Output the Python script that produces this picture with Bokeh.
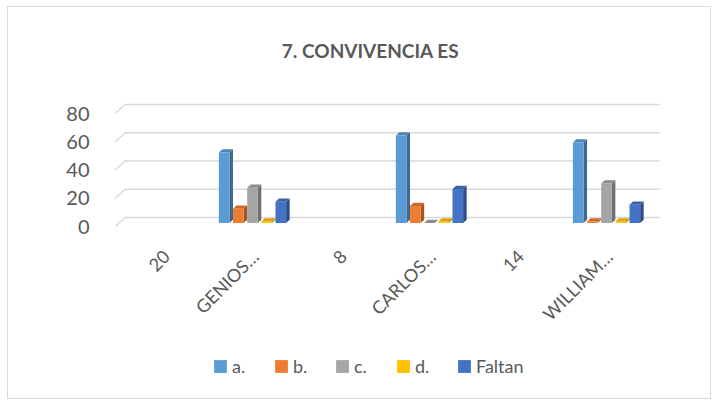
import math
from bokeh.plotting import figure
from bokeh.models import Range1d, FixedTicker, Legend, LegendItem
from bokeh.core.properties import value
from bokeh.embed import file_html
from bokeh.resources import INLINE

# ---- data ----
categories = ["20", "GENIOS\u2026", "8", "CARLOS\u2026", "14", "WILLIAM\u2026"]
series_names = ["a.", "b.", "c.", "d.", "Faltan"]
vals_a = [None, 50, None, 62, None, 57]
vals_b = [None, 10, None, 12, None, 1]
vals_c = [None, 25, None, 0, None, 28]
vals_d = [None, 1, None, 1, None, 1]
vals_faltan = [None, 15, None, 24, None, 13]
y_ticks = [0, 20, 40, 60, 80]
title_text = "7. CONVIVENCIA ES"

series_values = [vals_a, vals_b, vals_c, vals_d, vals_faltan]
colors = ["#5B9BD5", "#ED7D31", "#A5A5A5", "#FFC000", "#4472C4"]


def shade(hex_color, f):
    h = hex_color.lstrip("#")
    r, g, b = (int(h[i:i + 2], 16) for i in (0, 2, 4))
    return "#%02x%02x%02x" % (int(r * f), int(g * f), int(b * f))


FONT = "Lato"
TXT = "#595959"

p = figure(frame_width=547, frame_height=373, output_backend="svg", toolbar_location=None,
           x_range=Range1d(-0.70, 5.48), y_range=Range1d(-116.1, 148.0),
           min_border_left=105, min_border_right=50, min_border_top=10,
           min_border_bottom=8)
p.styles = {"border": "1px solid #d9d9d9", "margin-left": "7px", "margin-top": "6px"}
p.outline_line_color = None
p.xgrid.visible = False
p.ygrid.visible = False
p.background_fill_color = "white"
p.border_fill_color = "white"
p.xaxis.visible = False

# 3D-ish parameters (style only)
wall_dx, wall_dy = 0.11, 6.4      # back wall offset
bar_depth_x, bar_depth_y = 0.04, 2.3
bar_base = 2.5
slot = 0.16
front_w = slot - bar_depth_x
group_left = -0.51

# gridlines with slanted left end
gx, gy = [], []
for v in y_ticks:
    gx.append([-0.68, -0.68 + wall_dx, 5.47])
    gy.append([v, v + wall_dy, v + wall_dy])
p.multi_line(gx, gy, line_color="#d9d9d9", line_width=1.3)

legend_items = []
for j, (name, vals, col) in enumerate(zip(series_names, series_values, colors)):
    lefts, rights, tops = [], [], []
    side_xs, side_ys, top_xs, top_ys = [], [], [], []
    for i, v in enumerate(vals):
        if v is None:
            continue
        l = i + group_left + j * slot
        r = l + front_w
        t = v + bar_base
        lefts.append(l); rights.append(r); tops.append(t)
        side_xs.append([r, r + bar_depth_x, r + bar_depth_x, r])
        side_ys.append([bar_base, bar_base + bar_depth_y, t + bar_depth_y, t])
        top_xs.append([l, l + bar_depth_x, r + bar_depth_x, r])
        top_ys.append([t, t + bar_depth_y, t + bar_depth_y, t])
    p.patches(side_xs, side_ys, fill_color=shade(col, 0.68), line_color=None)
    p.patches(top_xs, top_ys, fill_color=shade(col, 0.85), line_color=None)
    rend = p.quad(left=lefts, right=rights, bottom=bar_base, top=tops,
                  fill_color=col, line_color=None)
    legend_items.append(LegendItem(label=name, renderers=[rend]))

# category labels (rotated), placed at the category positions
label_dx = -0.1
label_y = -19.0
p.text(x=[i + label_dx for i in range(len(categories))], y=[label_y] * len(categories),
       text=categories, angle=math.pi / 4, text_align="right", text_baseline="middle",
       text_font=value(FONT), text_font_size=value("18px"), text_color=TXT)

# title (drawn as text above the plotting area)
p.text(x=[2.204], y=[124.6], text=[title_text], text_align="center",
       text_baseline="middle", text_font=value(FONT), text_font_size=value("19px"),
       text_font_style="bold", text_color=TXT)

# y axis
p.yaxis.ticker = FixedTicker(ticks=y_ticks)
p.yaxis.axis_line_color = None
p.yaxis.major_tick_line_color = None
p.yaxis.minor_tick_line_color = None
p.yaxis.major_label_standoff = 18
p.yaxis.major_label_text_font = FONT
p.yaxis.major_label_text_font_size = "20px"
p.yaxis.major_label_text_color = TXT

legend = Legend(items=legend_items, orientation="horizontal", location=(99, 13),
                border_line_color=None, background_fill_alpha=0,
                glyph_width=16, glyph_height=16, label_standoff=4, spacing=21,
                padding=0, margin=0,
                label_text_font=FONT, label_text_font_size="18px",
                label_text_color=TXT)
p.add_layout(legend, "center")

open("out.html", "w").write(file_html(p, INLINE))
